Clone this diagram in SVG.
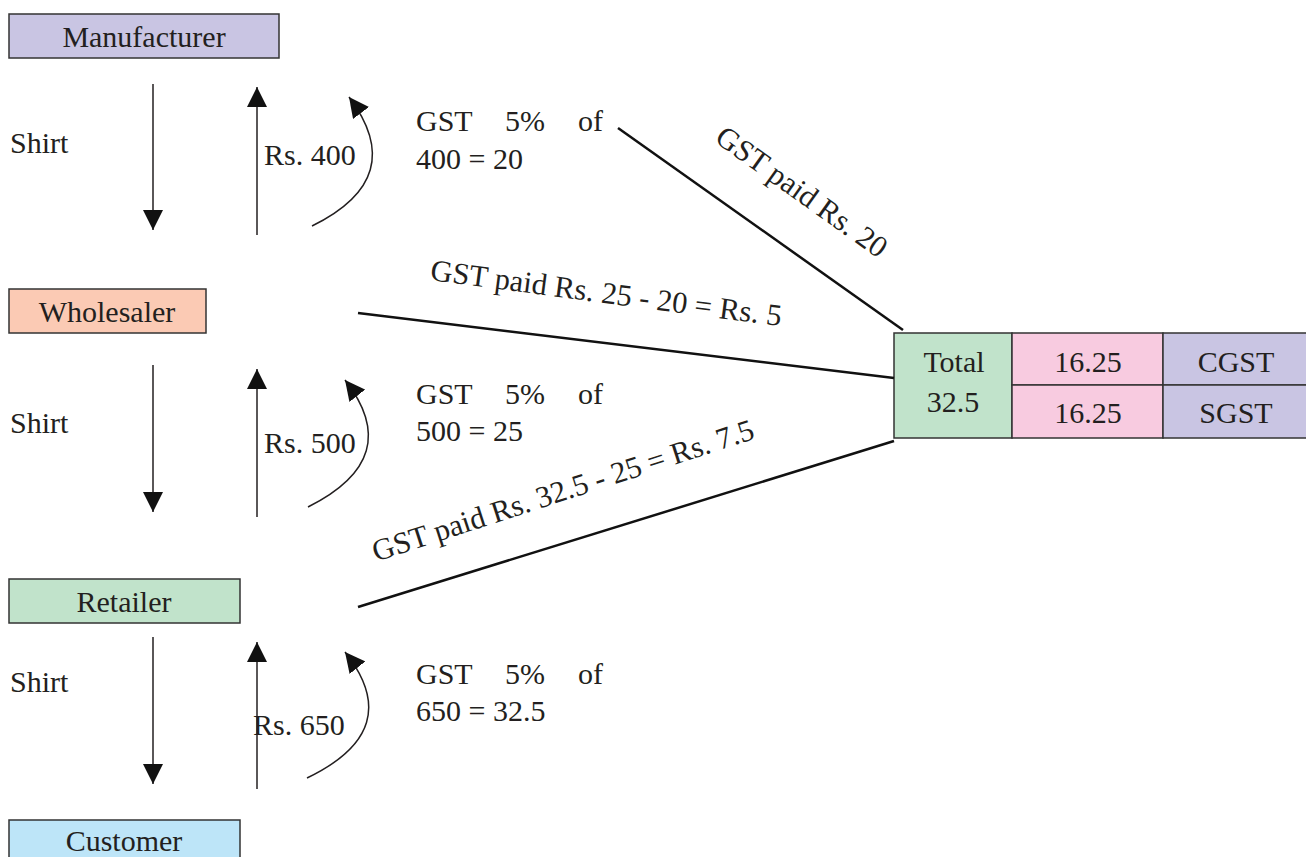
<svg xmlns="http://www.w3.org/2000/svg" width="1306" height="857" viewBox="0 0 1306 857">
<style>
text{font-family:"Liberation Serif","Times New Roman",serif;font-size:30px;fill:#231f20}
.mid{text-anchor:middle}
.box{stroke:#333;stroke-width:1.5}
.arr{stroke:#231f20;stroke-width:1.5;fill:none}
.ln{stroke:#111;stroke-width:2.5;fill:none}
</style>
<defs>
<marker id="ah" viewBox="0 0 20 20" refX="20" refY="10" markerWidth="20" markerHeight="20" markerUnits="userSpaceOnUse" orient="auto">
<path d="M0,0 L20,10 L0,20 z" fill="#111"/>
</marker>
</defs>
<rect width="1306" height="857" fill="#fff"/>

<g id="manufacturer"><rect class="box" x="9" y="14" width="270" height="44" fill="#c9c5e3"/><text class="mid" x="144" y="47">Manufacturer</text></g>
<g id="wholesaler"><rect class="box" x="9" y="289" width="197" height="44" fill="#fbcab4"/><text class="mid" x="107" y="322">Wholesaler</text></g>
<g id="retailer"><rect class="box" x="9" y="579" width="231" height="44" fill="#c1e3cb"/><text class="mid" x="124" y="612">Retailer</text></g>
<g id="customer"><rect class="box" x="9" y="820" width="231" height="44" fill="#bde5f8"/><text class="mid" x="124" y="851">Customer</text></g>

<g id="table">
<rect class="box" x="894" y="333" width="118" height="105" fill="#c1e3cb"/>
<rect class="box" x="1012" y="333" width="151" height="52" fill="#f8cbe0"/>
<rect class="box" x="1012" y="385" width="151" height="53" fill="#f8cbe0"/>
<rect class="box" x="1163" y="333" width="145" height="52" fill="#c9c5e3"/>
<rect class="box" x="1163" y="385" width="145" height="53" fill="#c9c5e3"/>
<text class="mid" x="954" y="372">Total</text>
<text class="mid" x="953" y="412">32.5</text>
<text class="mid" x="1088" y="372">16.25</text>
<text class="mid" x="1088" y="423">16.25</text>
<text class="mid" x="1236" y="372">CGST</text>
<text class="mid" x="1236" y="423">SGST</text>
</g>

<g id="connectors">
<line class="arr" x1="153" y1="84" x2="153" y2="230" marker-end="url(#ah)"/>
<line class="arr" x1="257" y1="235" x2="257" y2="87" marker-end="url(#ah)"/>
<path class="arr" d="M312,226 Q410,178 349,97" marker-end="url(#ah)"/>
<line class="arr" x1="153" y1="365" x2="153" y2="512" marker-end="url(#ah)"/>
<line class="arr" x1="257" y1="517" x2="257" y2="369" marker-end="url(#ah)"/>
<path class="arr" d="M308,507 Q406,458 345,380" marker-end="url(#ah)"/>
<line class="arr" x1="153" y1="637" x2="153" y2="784" marker-end="url(#ah)"/>
<line class="arr" x1="257" y1="789" x2="257" y2="642" marker-end="url(#ah)"/>
<path class="arr" d="M307,778 Q407,730 345,652" marker-end="url(#ah)"/>
<line class="ln" x1="618" y1="128" x2="903" y2="330"/>
<line class="ln" x1="358" y1="313" x2="894" y2="378"/>
<line class="ln" x1="358" y1="607" x2="894" y2="441"/>
</g>

<g id="labels">
<text x="10" y="153">Shirt</text>
<text x="10" y="433">Shirt</text>
<text x="10" y="692">Shirt</text>
<text x="264" y="165">Rs. 400</text>
<text x="264" y="453">Rs. 500</text>
<text x="253" y="735">Rs. 650</text>
<text x="416" y="131">GST</text><text x="505" y="131">5%</text><text x="603" y="131" text-anchor="end">of</text>
<text x="416" y="169">400 = 20</text>
<text x="416" y="404">GST</text><text x="505" y="404">5%</text><text x="603" y="404" text-anchor="end">of</text>
<text x="416" y="441">500 = 25</text>
<text x="416" y="684">GST</text><text x="505" y="684">5%</text><text x="603" y="684" text-anchor="end">of</text>
<text x="416" y="721">650 = 32.5</text>
<text class="mid" x="796" y="200" transform="rotate(35.5 796 200)" style="font-size:30.5px">GST paid Rs. 20</text>
<text class="mid" x="605" y="303" transform="rotate(7.5 605 303)" style="font-size:30.5px">GST paid Rs. 25 - 20 = Rs. 5</text>
<text class="mid" x="566" y="500" transform="rotate(-18 566 500)" style="font-size:30.5px">GST paid Rs. 32.5 - 25 = Rs. 7.5</text>
</g>
</svg>
